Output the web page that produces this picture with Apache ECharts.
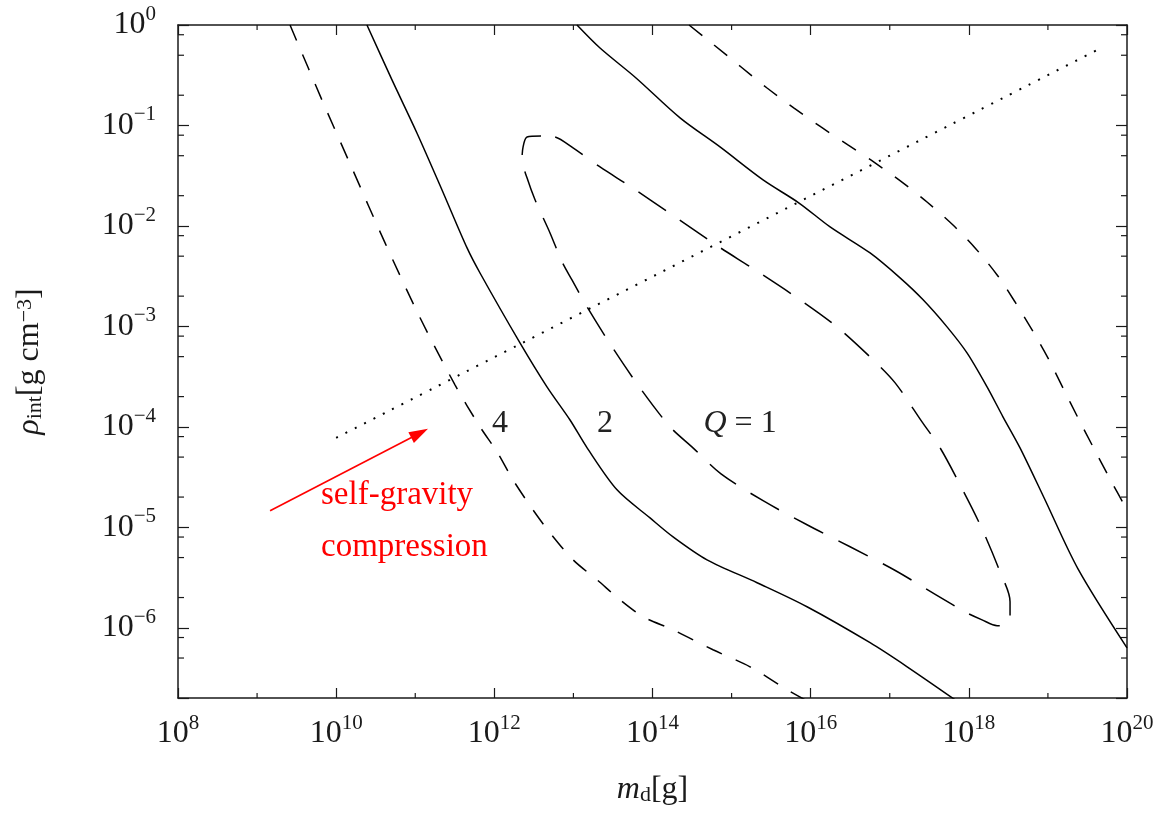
<!DOCTYPE html>
<html>
<head>
<meta charset="utf-8">
<title>Q contours</title>
<script src="https://cdn.jsdelivr.net/npm/echarts@6.0.0/dist/echarts.min.js"></script>
<style>
    html, body { margin: 0; padding: 0; background: #fff; }
    #chart01 { width: 1166px; height: 813px; }
</style>
</head>
<body>
<div id="chart01"></div>
<script>
// m_d [g] against rho_int [g cm^-3]
var xMinorTicks = [1e9, 1e11, 1e13, 1e15, 1e17, 1e19];
var yMinorTicks = [5e-7, 8e-7, 2e-6, 5e-6, 8e-6, 2e-5, 5e-5, 8e-5, 2e-4, 5e-4, 8e-4,
    2e-3, 5e-3, 8e-3, 0.02, 0.05, 0.08, 0.2, 0.5, 0.8];

// Q = 4 (short dashes)
var q4Left = [[2.61e9, 1], [6.62e9, 0.179], [1.58e10, 0.0378], [4.15e10, 6.78e-3], [1.15e11, 1.22e-3],
    [3.18e11, 2.62e-4], [6.59e11, 1.0e-4], [1.08e12, 5.64e-5], [1.72e12, 2.97e-5], [3.08e12, 1.49e-5],
    [5.06e12, 8.81e-6], [9.89e12, 4.75e-6], [1.99e13, 3.0e-6], [3.88e13, 1.90e-6], [7.59e13, 1.29e-6],
    [1.82e14, 9.55e-7], [5.82e14, 6.04e-7], [1.71e15, 4.09e-7], [5.02e15, 2.42e-7], [8.49e15, 1.92e-7]];
var q4Right = [[2.90e14, 1], [6.00e14, 0.632], [1.32e15, 0.382], [2.81e15, 0.236], [6.17e15, 0.149],
    [1.35e16, 0.0966], [2.96e16, 0.0640], [6.52e16, 0.0424], [1.47e17, 0.0268], [2.96e17, 0.0173],
    [6.31e17, 0.0102], [1.20e18, 6.04e-3], [2.28e18, 3.25e-3], [3.84e18, 1.75e-3], [6.30e18, 9.23e-4],
    [1.00e19, 4.86e-4], [1.55e19, 2.44e-4], [2.40e19, 1.23e-4], [3.72e19, 6.32e-5], [6.28e19, 2.90e-5],
    [1e20, 1.49e-5]];

// Q = 2 (solid)
var q2Left = [[2.45e10, 1], [5.08e10, 0.284], [1.05e11, 0.0842], [2.18e11, 0.0228], [4.52e11, 6.04e-3],
    [6.59e11, 3.40e-3], [2.11e12, 6.85e-4], [4.63e12, 2.50e-4], [9.06e12, 1.17e-4], [1.49e13, 6.18e-5],
    [3.56e13, 2.36e-5], [9.31e13, 1.24e-5], [1.82e14, 8.04e-6], [4.89e14, 4.75e-6], [2.10e15, 2.81e-6],
    [8.99e15, 1.62e-6], [5.64e16, 7.10e-7], [1.66e17, 4.09e-7], [6.70e17, 1.92e-7]];
var q2Right = [[1.11e13, 1], [2.17e13, 0.590], [6.19e13, 0.297], [2.23e14, 0.119], [7.14e14, 0.0611],
    [2.50e15, 0.0287], [7.13e15, 0.0169], [1.76e16, 9.77e-3], [5.64e16, 5.38e-3], [1.35e17, 3.04e-3],
    [2.64e17, 1.84e-3], [5.30e17, 9.89e-4], [9.48e17, 5.45e-4], [1.70e18, 2.50e-4], [2.70e18, 1.26e-4],
    [4.44e18, 6.18e-5], [8.93e18, 1.97e-5], [2.40e19, 3.86e-6], [1e20, 6.32e-7]];

// Q = 1 (long dashes, closed loop)
var q1Loop = [[3.89e12, 0.0787], [2.59e12, 0.0769], [2.31e12, 0.0611], [2.24e12, 0.0454], [2.59e12, 0.0301],
    [3.27e12, 0.0182], [5.06e12, 8.51e-3], [7.18e12, 4.39e-3], [9.59e12, 2.90e-3], [1.49e13, 1.56e-3],
    [3.08e13, 6.25e-4], [6.95e13, 2.44e-4], [1.67e14, 1.0e-4], [3.25e14, 6.18e-5], [7.35e14, 3.40e-5],
    [2.50e15, 1.84e-5], [8.99e15, 1.06e-5], [3.15e16, 6.40e-6], [1.13e17, 3.78e-6], [3.85e17, 2.13e-6],
    [8.95e17, 1.44e-6], [1.47e18, 1.20e-6], [2.28e18, 1.05e-6], [2.79e18, 1.05e-6], [3.32e18, 1.26e-6],
    [3.32e18, 1.82e-6], [2.48e18, 3.61e-6], [1.39e18, 1.06e-5], [7.30e17, 2.90e-5], [4.33e17, 6.18e-5],
    [2.56e17, 1.12e-4], [1.17e17, 2.74e-4], [6.15e16, 4.65e-4], [2.15e16, 9.89e-4], [7.33e15, 1.84e-3],
    [1.98e15, 3.65e-3], [6.35e14, 6.47e-3], [1.77e14, 0.0129], [5.35e13, 0.0244], [2.17e13, 0.0386],
    [9.89e12, 0.0597], [5.85e12, 0.0769], [3.89e12, 0.0787]];

// dotted power law and the red arrow (tail, tip)
var compressionLine = [[1e10, 7.78e-5], [4.98e19, 0.604]];
var arrowLine = [[1.46e9, 1.46e-5], [1.45e11, 9.55e-5]];

var curveLabels = [[1.18e12, 1.07e-4], [2.51e13, 1.07e-4], [1.28e15, 1.07e-4]];
var curveLabelText = ['4', '2', 'Q = 1'];

var FONT = 'Liberation Serif';
var INK = '#1a1a1a';

function powLabel(v) {
    var e = Math.log10(v);
    var r = Math.round(e);
    if (Math.abs(e - r) > 1e-6) {
        return '';
    }
    return '{b|10}{sup|' + (r < 0 ? '\u2212' + (-r) : r) + '}';
}

var tickRich = {
    b: { fontFamily: FONT, fontSize: 32, lineHeight: 42, color: INK },
    sup: { fontFamily: FONT, fontSize: 21, lineHeight: 21, color: INK, verticalAlign: 'top' }
};

function xAxisOf(pos, showLabel) {
    return {
        type: 'log',
        logBase: 10,
        min: 1e8,
        max: 1e20,
        interval: 2,
        position: pos,
        axisLine: { show: true, onZero: false, lineStyle: { color: INK, width: 1.5 } },
        axisTick: { show: true, inside: true, length: 10, lineStyle: { color: INK, width: 1.2 } },
        splitLine: { show: false },
        axisLabel: { show: showLabel, margin: 15, formatter: powLabel, rich: tickRich }
    };
}

function yAxisOf(pos, showLabel) {
    return {
        type: 'log',
        logBase: 10,
        min: 2e-7,
        max: 1,
        splitNumber: 7,
        position: pos,
        axisLine: { show: true, onZero: false, lineStyle: { color: INK, width: 1.5 } },
        axisTick: { show: true, inside: true, length: 11, lineStyle: { color: INK, width: 1.2 } },
        splitLine: { show: false },
        axisLabel: { show: showLabel, margin: 22, formatter: powLabel, rich: tickRich }
    };
}

function curve(name, data, dash, width) {
    return {
        name: name,
        type: 'line',
        data: data,
        symbol: 'none',
        showSymbol: false,
        smooth: 0.3,
        clip: true,
        silent: true,
        lineStyle: { color: '#000', width: width || 1.5, type: dash, cap: 'butt' },
        z: 3
    };
}

function tickSeries(data, horizontal) {
    return {
        type: 'custom',
        silent: true,
        data: data,
        renderItem: function (params, api) {
            var p = api.coord([api.value(0), api.value(1)]);
            var cs = params.coordSys;
            var st = { stroke: INK, lineWidth: 1.2 };
            var a, b;
            if (horizontal) {
                a = { x1: cs.x, y1: p[1], x2: cs.x + 6, y2: p[1] };
                b = { x1: cs.x + cs.width, y1: p[1], x2: cs.x + cs.width - 6, y2: p[1] };
            } else {
                a = { x1: p[0], y1: cs.y + cs.height, x2: p[0], y2: cs.y + cs.height - 5 };
                b = { x1: p[0], y1: cs.y, x2: p[0], y2: cs.y + 5 };
            }
            return {
                type: 'group',
                children: [
                    { type: 'line', shape: a, style: st },
                    { type: 'line', shape: b, style: st }
                ]
            };
        }
    };
}

// red arrow: line from tail to the base of a filled head whose tip is the second point
function arrowSeries(pts) {
    return {
        type: 'custom',
        silent: true,
        z: 4,
        data: [pts[0].concat(pts[1])],
        encode: { x: [0, 2], y: [1, 3] },
        renderItem: function (params, api) {
            var a = api.coord([api.value(0), api.value(1)]);
            var b = api.coord([api.value(2), api.value(3)]);
            var dx = b[0] - a[0], dy = b[1] - a[1];
            var len = Math.sqrt(dx * dx + dy * dy);
            var ux = dx / len, uy = dy / len;
            var hl = 19, hw = 6;
            var base = [b[0] - ux * hl, b[1] - uy * hl];
            return {
                type: 'group',
                children: [
                    {
                        type: 'line',
                        shape: { x1: a[0], y1: a[1], x2: base[0] + ux * 2, y2: base[1] + uy * 2 },
                        style: { stroke: '#ff0000', lineWidth: 1.6 }
                    },
                    {
                        type: 'polygon',
                        shape: { points: [b, [base[0] - uy * hw, base[1] + ux * hw], [base[0] + uy * hw, base[1] - ux * hw]] },
                        style: { fill: '#ff0000' }
                    }
                ]
            };
        }
    };
}

function chart01(id) {
    var myChart = echarts.init(document.getElementById(id));
    var option = {
        animation: false,
        backgroundColor: '#fff',
        textStyle: { fontFamily: FONT },
        grid: {
            left: 178,
            right: 39,
            top: 25,
            bottom: 115
        },
        xAxis: [
            Object.assign(xAxisOf('bottom', true), {
                name: '{it|m}{sub|d}{n|[g]}',
                nameLocation: 'middle',
                nameGap: 76,
                nameTextStyle: {
                    fontFamily: FONT, fontSize: 32, color: INK,
                    rich: {
                        it: { fontFamily: FONT, fontSize: 32, fontStyle: 'italic', color: INK },
                        sub: { fontFamily: FONT, fontSize: 22, color: INK, verticalAlign: 'bottom' },
                        n: { fontFamily: FONT, fontSize: 32, color: INK }
                    }
                }
            }),
            xAxisOf('top', false)
        ],
        yAxis: [
            Object.assign(yAxisOf('left', true), {
                name: '{it|\u03c1}{sub|int}{n|[g cm}{sup|\u22123}{n|]}',
                nameLocation: 'middle',
                nameRotate: 90,
                nameGap: 132,
                nameTextStyle: {
                    fontFamily: FONT, fontSize: 32, color: INK,
                    rich: {
                        it: { fontFamily: FONT, fontSize: 32, fontStyle: 'italic', color: INK },
                        sub: { fontFamily: FONT, fontSize: 22, color: INK, verticalAlign: 'bottom' },
                        sup: { fontFamily: FONT, fontSize: 22, color: INK, verticalAlign: 'top' },
                        n: { fontFamily: FONT, fontSize: 32, color: INK }
                    }
                }
            }),
            yAxisOf('right', false)
        ],
        graphic: [
            {
                type: 'text', left: 321, top: 479, silent: true,
                style: { text: 'self-gravity', font: '33px "Liberation Serif"', fill: '#ff0000' }
            },
            {
                type: 'text', left: 321, top: 531, silent: true,
                style: { text: 'compression', font: '33px "Liberation Serif"', fill: '#ff0000' }
            }
        ],
        series: [
            tickSeries(xMinorTicks.map(function (m) { return [m, 1]; }), false),
            tickSeries(yMinorTicks.map(function (r) { return [1e8, r]; }), true),
            curve('Q=4 left', q4Left, [17, 15]),
            curve('Q=4 right', q4Right, [17, 15]),
            curve('Q=2 left', q2Left, 'solid'),
            curve('Q=2 right', q2Right, 'solid'),
            curve('Q=1', q1Loop, [33, 17]),
            curve('compression', compressionLine, [2, 8.5], 2),
            arrowSeries(arrowLine),
            {
                type: 'scatter',
                silent: true,
                symbolSize: 0,
                itemStyle: { opacity: 1 },
                data: curveLabels.map(function (d, i) {
                    return { value: d, name: curveLabelText[i] };
                }),
                label: {
                    show: true,
                    position: 'inside',
                    fontFamily: FONT,
                    fontSize: 32,
                    color: '#222',
                    opacity: 1,
                    textBorderWidth: 0,
                    formatter: function (p) {
                        return p.name.replace('Q', '{it|Q}');
                    },
                    rich: {
                        it: { fontFamily: FONT, fontSize: 32, fontStyle: 'italic', color: '#222' }
                    }
                },
                z: 5
            }
        ]
    };

    myChart.setOption(option);
    return myChart;
}

var chartInit01 = chart01('chart01');
window.addEventListener('resize', function () {
    chartInit01.resize();
});
</script>
</body>
</html>
